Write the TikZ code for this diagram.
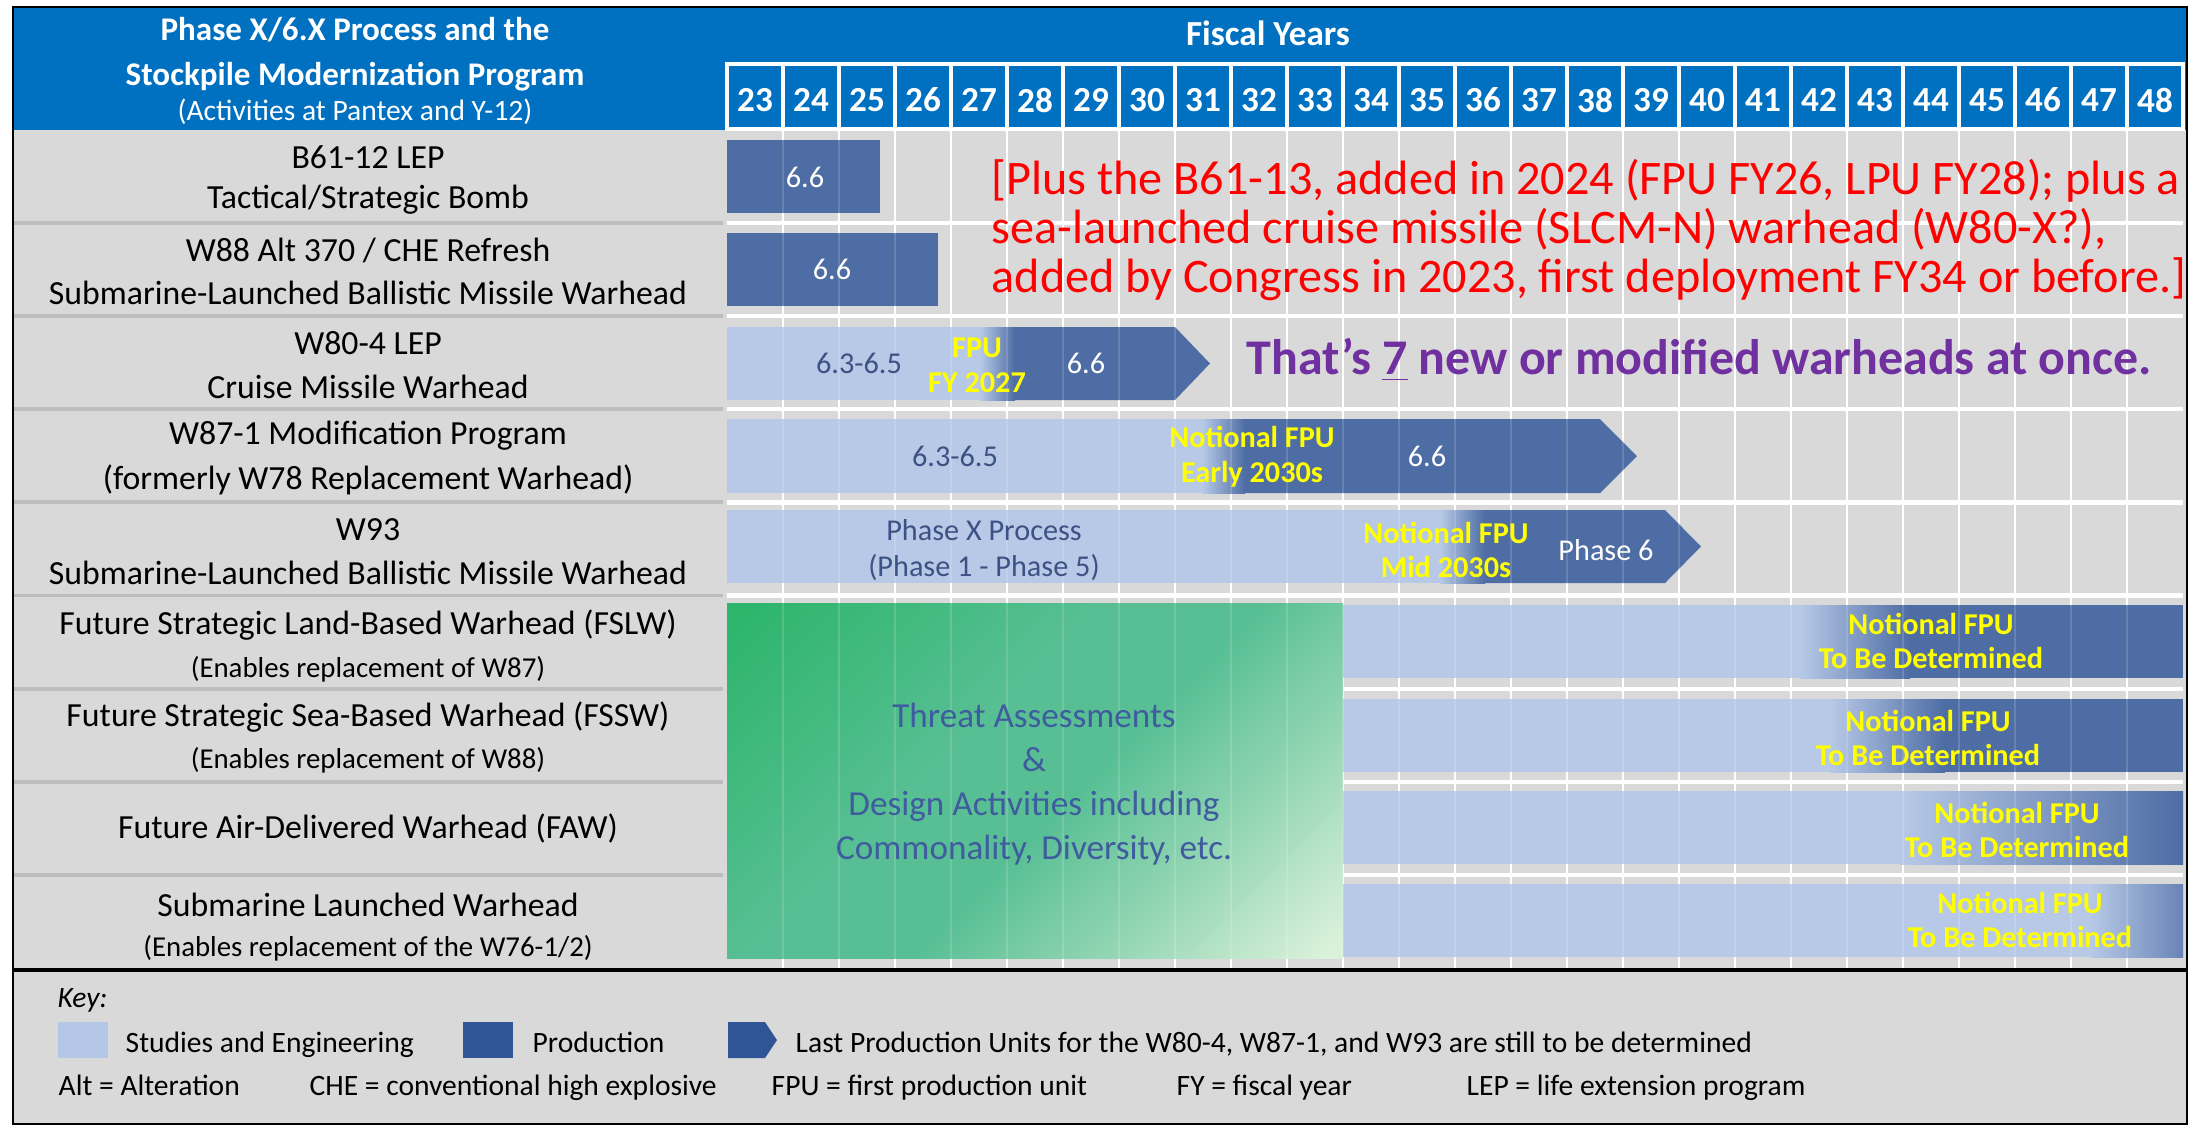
\documentclass[tikz,border=0pt]{standalone}
\usepackage{fontspec}
\setmainfont{Carlito}
\usepackage{xcolor}
\usepackage{tikz}
\usetikzlibrary{calc}

\definecolor{hdrblue}{HTML}{0070C0}
\definecolor{gridgrey}{HTML}{D9D9D9}
\definecolor{divgrey}{HTML}{BDBDBD}
\definecolor{studylt}{HTML}{B7C9E6}
\definecolor{prodbar}{HTML}{4E6DA5}
\definecolor{keylt}{HTML}{B4C7E7}
\definecolor{keydark}{HTML}{2F5597}
\definecolor{studytext}{HTML}{3D5284}
\definecolor{fpuyellow}{HTML}{FFFF00}
\definecolor{greenA}{HTML}{2DB56B}
\definecolor{greenM}{HTML}{58BF94}
\definecolor{greenB}{HTML}{DAF1DA}
\definecolor{threattext}{HTML}{3E5C9E}
\definecolor{notered}{HTML}{FF0000}
\definecolor{notepurple}{HTML}{7030A0}

\pgfdeclareverticalshading{greenfade}{100bp}{color(0bp)=(greenB); color(16bp)=(greenB);
        color(32bp)=(greenM!55!greenB); color(46bp)=(greenM); color(58bp)=(greenM); color(84bp)=(greenA); color(100bp)=(greenA)}

\begin{document}
\begin{tikzpicture}[x=0.01cm, y=-0.01cm]%%ssmp

                \useasboundingbox (0,0) rectangle (2199,1129);
                \tikzstyle{lbl}      = [font=\fontsize{9.6}{11}\selectfont]
                \tikzstyle{sublbl}   = [font=\fontsize{8.2}{10}\selectfont]
                \tikzstyle{hdr}      = [text=white, font=\bfseries\fontsize{9.4}{11}\selectfont]
                \tikzstyle{yr}       = [text=white, font=\bfseries\fontsize{10}{12}\selectfont]
                \tikzstyle{prodtxt}  = [text=white, font=\fontsize{8.6}{10}\selectfont]
                \tikzstyle{studytxt} = [text=studytext, font=\fontsize{8.6}{10}\selectfont, align=center]
                \tikzstyle{fpu}      = [text=fpuyellow, font=\bfseries\fontsize{8.6}{9.9}\selectfont, align=center]
                \tikzstyle{keytxt}   = [anchor=west, inner sep=0pt, text height=1.6ex, text depth=0.4ex, font=\fontsize{8.4}{10}\selectfont]

                % frame and header
                \fill[gridgrey] (13,7) rectangle (2187,1124);
                \fill[hdrblue] (13,7) rectangle (2187,130);
                \node[hdr] (title1) at (355,30) {Phase X/6.X Process and the};
                \node[hdr] (title2) at (355,77) {Stockpile Modernization Program};
                \node[text=white, font=\fontsize{8.4}{10}\selectfont] (title3) at (355,112) {(Activities at Pantex and Y-12)};
                \node[text=white, font=\bfseries\fontsize{10}{12}\selectfont] (fiscal) at (1268,33) {Fiscal Years};
                \foreach \yr [count=\i from 0] in {23,...,48}
                {
                        \draw[white, line width=0.9pt] ({727+56*\i},64) rectangle ({783+56*\i},129);
                        \node[yr] (fy\yr) at ({755+56*\i},100) {\yr};
                }

                % grid
                \foreach \i in {1,...,25}
                        \draw[white, line width=0.6pt] ({727+56*\i},130) -- ({727+56*\i},968);
                \foreach \i in {1,...,8}
                {
                        \draw[divgrey, line width=1.1pt] (13,{130+93.1*\i}) -- (723,{130+93.1*\i});
                        \draw[white, line width=1.2pt] (727,{130+93.1*\i}) -- (2183,{130+93.1*\i});
                }

                % bars
                \fill[prodbar] (727,140) rectangle (880,213);
                \fill[prodbar] (727,233) rectangle (938,306);
                \fill[studylt] (727,327) rectangle (980,400);
                \shade[left color=studylt, right color=prodbar] (980,327) rectangle (1015,400);
                \fill[prodbar] (1014,327) -- (1175,327) -- (1210,363.5) -- (1175,400) -- (1014,400) -- cycle;
                \fill[studylt] (727,419) rectangle (1202,493);
                \shade[left color=studylt, right color=prodbar] (1202,419) rectangle (1245,493);
                \fill[prodbar] (1244,419) -- (1600,419) -- (1637,456) -- (1600,493) -- (1244,493) -- cycle;
                \fill[studylt] (727,510) rectangle (1440,583);
                \shade[left color=studylt, right color=prodbar] (1440,510) rectangle (1485,583);
                \fill[prodbar] (1484,510) -- (1665,510) -- (1701,546.5) -- (1665,583) -- (1484,583) -- cycle;
                \shade[shading=greenfade, shading angle=45] (727,603) rectangle (1343,958);
                \fill[studylt] (1343,605) rectangle (1800,678);
                \shade[left color=studylt, right color=prodbar] (1800,605) rectangle (1910,678);
                \fill[prodbar] (1909,605) rectangle (2183,678);
                \fill[studylt] (1343,699) rectangle (1830,772);
                \shade[left color=studylt, right color=prodbar] (1830,699) rectangle (1945,772);
                \fill[prodbar] (1944,699) rectangle (2183,772);
                \fill[studylt] (1343,791) rectangle (1900,864);
                \shade[left color=studylt, right color=prodbar] (1900,791) rectangle (2183,864);
                \fill[studylt] (1343,884) rectangle (2090,957);
                \shade[left color=studylt, right color=prodbar!75!studylt] (2090,884) rectangle (2183,957);
                \foreach \i in {1,...,25}
                        \draw[white, opacity=0.15, line width=0.6pt] ({727+56*\i},130) -- ({727+56*\i},968);

                % bar texts
                \node[prodtxt] (b61) at (805,177) {6.6};
                \node[prodtxt] (w88) at (832,269) {6.6};
                \node[studytxt] (w80s) at (859,363) {6.3-6.5};
                \node[fpu] (w80f) at (977,365) {FPU\\FY 2027};
                \node[prodtxt] (w80p) at (1086,363) {6.6};
                \node[studytxt] (w87s) at (955,456) {6.3-6.5};
                \node[fpu] (w87f) at (1252,457) {Notional FPU\\Early 2030s};
                \node[prodtxt] (w87p) at (1427,456) {6.6};
                \node[studytxt] (w93s) at (984,550) {Phase X Process\\(Phase 1 - Phase 5)};
                \node[fpu] (w93f) at (1446,550) {Notional FPU\\Mid 2030s};
                \node[prodtxt] (w93p) at (1606,550) {Phase 6};
                \node[text=threattext, align=center, font=\fontsize{10}{12.5}\selectfont] (threat) at (1034,784)
                        {Threat Assessments\\\&\\Design Activities including\\Commonality, Diversity, etc.};
                \node[fpu] (fslw) at (1931,641) {Notional FPU\\To Be Determined};
                \node[fpu] (fssw) at (1928,738) {Notional FPU\\To Be Determined};
                \node[fpu] (faw) at (2017,830) {Notional FPU\\To Be Determined};
                \node[fpu] (slw) at (2020,920) {Notional FPU\\To Be Determined};

                % notes
                \node[anchor=west, align=left, inner sep=0pt, text=notered, font=\fontsize{13.7}{13.95}\selectfont] (note) at (991,230)
                        {[Plus the B61-13, added in 2024 (FPU FY26, LPU FY28); plus a\\sea-launched cruise missile (SLCM-N) warhead (W80-X?),\\added by Congress in 2023, first deployment FY34 or before.]};
                \node[anchor=west, inner sep=0pt, text=notepurple, font=\bfseries\fontsize{14.2}{16}\selectfont] (seven) at (1246,360)
                        {That’s \underline{7} new or modified warheads at once.};

                % row labels
                \node[lbl] (l1a) at (368,157) {B61-12 LEP};
                \node[lbl] (l1b) at (368,200) {Tactical/Strategic Bomb};
                \node[lbl] (l2a) at (368,250) {W88 Alt 370 / CHE Refresh};
                \node[lbl] (l2b) at (368,293) {Submarine-Launched Ballistic Missile Warhead};
                \node[lbl] (l3a) at (368,343) {W80-4 LEP};
                \node[lbl] (l3b) at (368,387) {Cruise Missile Warhead};
                \node[lbl] (l4a) at (368,436) {W87-1 Modification Program};
                \node[lbl] (l4b) at (368,480) {(formerly W78 Replacement Warhead)};
                \node[lbl] (l5a) at (368,530) {W93};
                \node[lbl] (l5b) at (368,573) {Submarine-Launched Ballistic Missile Warhead};
                \node[lbl] (l6a) at (368,625) {Future Strategic Land-Based Warhead (FSLW)};
                \node[sublbl] (l6b) at (368,669) {(Enables replacement of W87)};
                \node[lbl] (l7a) at (368,717) {Future Strategic Sea-Based Warhead (FSSW)};
                \node[sublbl] (l7b) at (368,760) {(Enables replacement of W88)};
                \node[lbl] (l8a) at (368,828) {Future Air-Delivered Warhead (FAW)};
                \node[lbl] (l9a) at (368,905) {Submarine Launched Warhead};
                \node[sublbl] (l9b) at (368,948) {(Enables replacement of the W76-1/2)};

                % key
                \draw[black, line width=1.4pt] (13,970) -- (2187,970);
                \node[keytxt, font=\itshape\fontsize{8.4}{10}\selectfont] (key) at (57,997) {Key:};
                \fill[keylt] (58,1022) rectangle (108,1058);
                \node[keytxt] (kstudy) at (125,1042) {Studies and Engineering};
                \fill[keydark] (463,1022) rectangle (513,1058);
                \node[keytxt] (kprod) at (532,1042) {Production};
                \fill[keydark] (728,1022) -- (765,1022) -- (777,1040) -- (765,1058) -- (728,1058) -- cycle;
                \node[keytxt] (klast) at (795,1042) {Last Production Units for the W80-4, W87-1, and W93 are still to be determined};
                \node[keytxt] (kalt) at (58,1085) {Alt = Alteration};
                \node[keytxt] (kche) at (309,1085) {CHE = conventional high explosive};
                \node[keytxt] (kfpu) at (771,1085) {FPU = first production unit};
                \node[keytxt] (kfy) at (1176,1085) {FY = fiscal year};
                \node[keytxt] (klep) at (1466,1085) {LEP = life extension program};
                \draw[black, line width=0.8pt] (13,7) rectangle (2187,1124);
\end{tikzpicture}
\end{document}
